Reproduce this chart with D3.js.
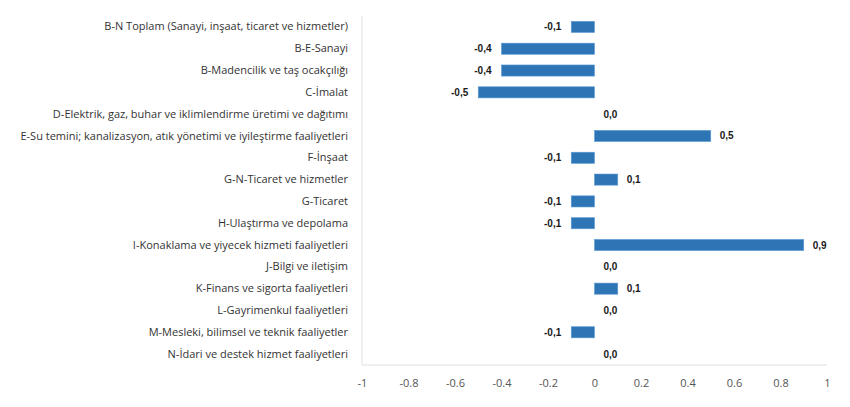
<!DOCTYPE html>
<html><head><meta charset="utf-8">
<script src="https://cdn.jsdelivr.net/npm/d3@7"></script>
<style>body{margin:0;background:#fff}</style></head>
<body><svg id="c" width="850" height="407"></svg>
<script>
const categories = [
 "B-N Toplam (Sanayi, inşaat, ticaret ve hizmetler)",
 "B-E-Sanayi",
 "B-Madencilik ve taş ocakçılığı",
 "C-İmalat",
 "D-Elektrik, gaz, buhar ve iklimlendirme üretimi ve dağıtımı",
 "E-Su temini; kanalizasyon, atık yönetimi ve iyileştirme faaliyetleri",
 "F-İnşaat",
 "G-N-Ticaret ve hizmetler",
 "G-Ticaret",
 "H-Ulaştırma ve depolama",
 "I-Konaklama ve yiyecek hizmeti faaliyetleri",
 "J-Bilgi ve iletişim",
 "K-Finans ve sigorta faaliyetleri",
 "L-Gayrimenkul faaliyetleri",
 "M-Mesleki, bilimsel ve teknik faaliyetler",
 "N-İdari ve destek hizmet faaliyetleri"
];
const values = [-0.1,-0.4,-0.4,-0.5,0.0,0.5,-0.1,0.1,-0.1,-0.1,0.9,0.0,0.1,0.0,-0.1,0.0];
const xTicks = [-1,-0.8,-0.6,-0.4,-0.2,0,0.2,0.4,0.6,0.8,1];

(function(){
const svg = d3.select("#c");
const mLeft = 362, mRight = 827, mTop = 16, mBottom = 365;
const x = d3.scaleLinear().domain([-1,1]).range([mLeft,mRight]);
const y = d3.scaleBand().domain(categories).range([mTop,mBottom]).paddingInner(0.49).paddingOuter(0.245);

svg.append("line").attr("x1",mLeft).attr("x2",mLeft).attr("y1",mTop).attr("y2",mBottom).attr("stroke","#e0e0e0");
svg.append("line").attr("x1",mLeft).attr("x2",mRight).attr("y1",mBottom).attr("y2",mBottom).attr("stroke","#e0e0e0");

const xAxis = d3.axisBottom(x).tickValues(xTicks).tickSize(0).tickPadding(14).tickFormat(d=>String(d));
const gx = svg.append("g").attr("transform",`translate(0,${mBottom})`).call(xAxis);
gx.select(".domain").remove();
gx.selectAll("text").attr("font-family","'Open Sans', sans-serif").attr("font-size","11px").attr("fill","#555");

const yAxis = d3.axisLeft(y).tickSize(0).tickPadding(14);
const gy = svg.append("g").attr("transform",`translate(${mLeft},0)`).call(yAxis);
gy.select(".domain").remove();
gy.selectAll("text").attr("font-family","'Open Sans', sans-serif").attr("font-size","11px").attr("fill","#333");

const data = categories.map((c,i)=>({c, v:values[i]}));
svg.append("g").selectAll("rect").data(data.filter(d=>d.v!==0)).join("rect")
  .attr("x",d=>x(Math.min(0,d.v))).attr("width",d=>Math.abs(x(d.v)-x(0)))
  .attr("y",d=>y(d.c)).attr("height",y.bandwidth())
  .attr("fill","#2e75b6").attr("stroke","#5b9bd5").attr("stroke-width",0.6);

svg.append("g").selectAll("text").data(data).join("text")
  .attr("x",d=>d.v<0 ? x(d.v)-10 : x(d.v)+9)
  .attr("y",d=>y(d.c)+y.bandwidth()/2)
  .attr("dy","0.35em")
  .attr("text-anchor",d=>d.v<0?"end":"start")
  .attr("font-family","'Liberation Sans', Arial, sans-serif").attr("font-weight","bold")
  .attr("font-size","10px").attr("fill","#1a1a1a")
  .text(d=>d.v.toFixed(1).replace(".",","));
})();
</script></body></html>
